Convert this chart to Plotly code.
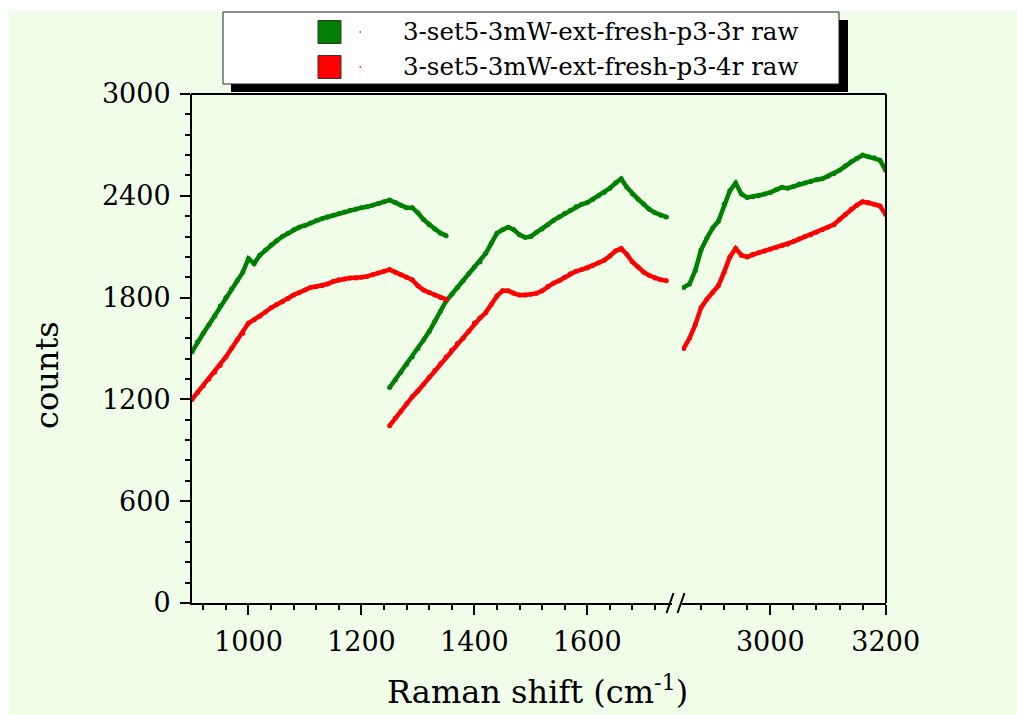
import plotly.graph_objects as go

# ---------------- data ----------------
series_names = ["3-set5-3mW-ext-fresh-p3-3r raw", "3-set5-3mW-ext-fresh-p3-4r raw"]
series_colors = ["#008000", "#FF0000"]

# window 1 (Raman shift, cm-1)
w1_x = list(range(900, 1351, 10))
green_w1 = [1480, 1540, 1590, 1640, 1690, 1750, 1800, 1850, 1900, 1950,
            2030, 2000, 2050, 2080, 2110, 2135, 2160, 2180, 2200, 2215,
            2225, 2240, 2255, 2265, 2275, 2285, 2295, 2305, 2315, 2320,
            2330, 2335, 2345, 2355, 2365, 2375, 2360, 2345, 2330, 2330,
            2300, 2260, 2230, 2205, 2180, 2165]
red_w1 = [1200, 1240, 1280, 1320, 1360, 1400, 1450, 1500, 1550, 1590,
          1650, 1670, 1690, 1715, 1740, 1760, 1775, 1795, 1815, 1830,
          1845, 1860, 1865, 1870, 1880, 1895, 1905, 1910, 1915, 1915,
          1920, 1925, 1935, 1945, 1955, 1965, 1950, 1935, 1920, 1905,
          1870, 1845, 1830, 1815, 1800, 1790]

# window 2
w2_x = list(range(1250, 1741, 10))
green_w2 = [1270, 1315, 1360, 1405, 1450, 1500, 1550, 1600, 1660, 1720,
            1780, 1820, 1860, 1900, 1940, 1980, 2010, 2060, 2120, 2180,
            2200, 2215, 2200, 2170, 2155, 2160, 2185, 2205, 2230, 2255,
            2275, 2295, 2315, 2335, 2350, 2360, 2380, 2400, 2420, 2445,
            2475, 2500, 2450, 2410, 2380, 2350, 2320, 2300, 2285, 2275]
red_w2 = [1045, 1090, 1130, 1175, 1215, 1250, 1290, 1330, 1370, 1410,
          1450, 1490, 1530, 1560, 1600, 1650, 1680, 1710, 1760, 1810,
          1840, 1840, 1825, 1815, 1815, 1820, 1825, 1840, 1865, 1885,
          1900, 1920, 1940, 1955, 1965, 1975, 1990, 2005, 2020, 2045,
          2075, 2090, 2055, 2010, 1980, 1950, 1930, 1915, 1905, 1900]

# window 3 (after the axis break)
w3_x = list(range(2850, 3201, 10))
green_w3 = [1860, 1880, 1960, 2080, 2150, 2210, 2250, 2350, 2430, 2475,
            2410, 2390, 2395, 2400, 2410, 2420, 2435, 2450, 2445, 2455,
            2470, 2475, 2485, 2495, 2500, 2515, 2530, 2550, 2575, 2600,
            2620, 2640, 2630, 2625, 2610, 2550]
red_w3 = [1500, 1560, 1640, 1740, 1790, 1830, 1870, 1950, 2040, 2090,
          2050, 2040, 2055, 2065, 2075, 2085, 2095, 2105, 2115, 2130,
          2145, 2160, 2170, 2185, 2200, 2215, 2230, 2260, 2290, 2320,
          2345, 2365, 2360, 2350, 2340, 2290]

x_left_range = [900, 1750]
x_right_range = [2847, 3200.5]
y_range = [0, 3000]

# ---------------- layout geometry (pixels) ----------------
W, H = 1017, 715
L, R, T, B = 192, 886, 94, 603
LEFT_END = 672
RIGHT_START = 682


def px(x):
    return (x - L) / (R - L)


def py(y):
    return (B - y) / (B - T)


FONT = "DejaVu Serif"
BG = "#F0FDE9"

fig = go.Figure()

left_green_x = w1_x + [None] + w2_x
left_green_y = green_w1 + [None] + green_w2
left_red_x = w1_x + [None] + w2_x
left_red_y = red_w1 + [None] + red_w2

for (xs, ys, color, name) in [
    (left_green_x, left_green_y, series_colors[0], series_names[0]),
    (left_red_x, left_red_y, series_colors[1], series_names[1]),
]:
    fig.add_trace(go.Scatter(x=xs, y=ys, mode="lines+markers", name=name,
                             line=dict(color=color, width=4.5),
                             marker=dict(color=color, size=5),
                             connectgaps=False, showlegend=False,
                             xaxis="x", yaxis="y"))

for (ys, color, name) in [
    (green_w3, series_colors[0], series_names[0]),
    (red_w3, series_colors[1], series_names[1]),
]:
    fig.add_trace(go.Scatter(x=w3_x, y=ys, mode="lines+markers", name=name,
                             line=dict(color=color, width=4.5),
                             marker=dict(color=color, size=5),
                             showlegend=False, xaxis="x2", yaxis="y"))

axis_common = dict(
    showline=True, linecolor="black", linewidth=2,
    ticks="outside", ticklen=10, tickwidth=2, tickcolor="black",
    showgrid=False, zeroline=False,
    tickfont=dict(family=FONT, size=27, color="black"),
)

shapes = []
# background panel
shapes.append(dict(type="rect", xref="paper", yref="paper",
                   x0=px(9), x1=px(W + 5), y0=py(H + 5), y1=py(11),
                   fillcolor=BG, line=dict(width=0), layer="below"))
# top and right frame
shapes.append(dict(type="line", xref="paper", yref="paper", x0=px(L - 1), x1=1,
                   y0=1, y1=1, line=dict(color="black", width=2)))
shapes.append(dict(type="line", xref="paper", yref="paper", x0=1, x1=1,
                   y0=0, y1=1, line=dict(color="black", width=2)))
# axis break marks
for cx in (670, 681):
    shapes.append(dict(type="line", xref="paper", yref="paper",
                       x0=px(cx - 3.5), x1=px(cx + 3.5),
                       y0=py(B + 10), y1=py(B - 10),
                       line=dict(color="black", width=2)))
# legend box with shadow
shapes.append(dict(type="rect", xref="paper", yref="paper",
                   x0=px(231), x1=px(848), y0=py(92), y1=py(20),
                   fillcolor="black", line=dict(width=0)))
shapes.append(dict(type="rect", xref="paper", yref="paper",
                   x0=px(223), x1=px(839), y0=py(84), y1=py(12),
                   fillcolor="white", line=dict(color="#222222", width=1)))
legend_rows = [32, 67]
annotations = []
for name, color, cy in zip(series_names, series_colors, legend_rows):
    shapes.append(dict(type="rect", xref="paper", yref="paper",
                       x0=px(318), x1=px(341), y0=py(cy + 11.5), y1=py(cy - 11.5),
                       fillcolor=color, line=dict(color="#333333", width=1)))
    shapes.append(dict(type="rect", xref="paper", yref="paper",
                       x0=px(359.5), x1=px(361), y0=py(cy + 0.8), y1=py(cy - 0.8),
                       fillcolor=color, line=dict(width=0)))
    annotations.append(dict(text=name, xref="paper", yref="paper",
                            x=px(401), y=py(cy), xanchor="left", yanchor="middle",
                            showarrow=False,
                            font=dict(family=FONT, size=24.5, color="black")))

annotations.append(dict(text="Raman shift (cm<sup>-1</sup>)", xref="paper", yref="paper",
                        x=px(537), y=py(690), xanchor="center", yanchor="middle",
                        showarrow=False, font=dict(family=FONT, size=32, color="black")))
annotations.append(dict(text="counts", xref="paper", yref="paper",
                        x=px(47), y=py(375), xanchor="center", yanchor="middle",
                        textangle=-90, showarrow=False,
                        font=dict(family=FONT, size=32, color="black")))

fig.update_layout(
    width=W, height=H,
    margin=dict(l=L, r=W - R, t=T, b=H - B, pad=0),
    paper_bgcolor="white", plot_bgcolor=BG,
    showlegend=False,
    xaxis=dict(domain=[0, px(LEFT_END)], range=x_left_range, anchor="y",
               dtick=200, tick0=0, ticklabelstandoff=4,
               minor=dict(dtick=40, tick0=0, ticks="outside", ticklen=5,
                          tickwidth=2, tickcolor="black", showgrid=False),
               **axis_common),
    xaxis2=dict(domain=[px(RIGHT_START), 1], range=x_right_range, anchor="y",
                dtick=200, tick0=0, ticklabelstandoff=4,
                minor=dict(dtick=40, tick0=0, ticks="outside", ticklen=5,
                           tickwidth=2, tickcolor="black", showgrid=False),
                **axis_common),
    yaxis=dict(domain=[0, 1], range=y_range, anchor="x",
               dtick=600, tick0=0, ticklabelstandoff=4,
               minor=dict(dtick=120, tick0=0, ticks="outside", ticklen=5,
                          tickwidth=2, tickcolor="black", showgrid=False),
               **axis_common),
    shapes=shapes,
    annotations=annotations,
)

fig.write_html("out.html")
